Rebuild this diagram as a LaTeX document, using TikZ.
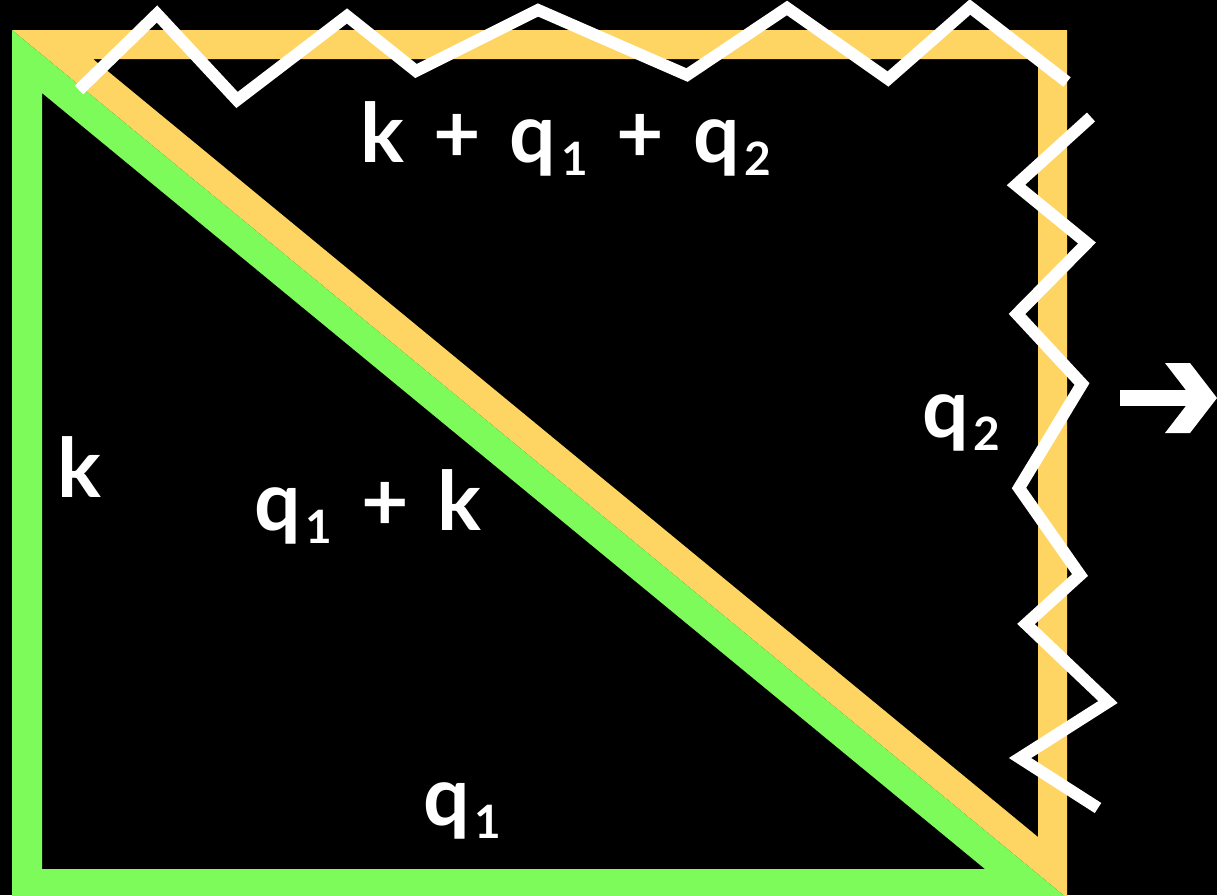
\documentclass[tikz,border=0pt]{standalone}
\usepackage{fontspec}
\setmainfont{Lato}
\definecolor{greenc}{HTML}{7CFB5A}
\definecolor{yellowc}{HTML}{FED462}
\newcommand{\qsub}[1]{\hspace{5pt}\raisebox{-0.17em}{\fontsize{46}{46}\selectfont #1}}
\newcommand{\lblfont}{\fontsize{82}{92}\selectfont\bfseries\spaceskip=29pt plus 0pt minus 0pt\relax}
\tikzset{
  lbl/.style={text=white, inner sep=0pt, anchor=base west, font=\lblfont},
  zig/.style={draw=white, line width=12pt, line join=miter, miter limit=10}
}
\begin{document}
\begin{tikzpicture}[x=1pt,y=-1pt]
\useasboundingbox (0,0) rectangle (1217,895);
\fill[black] (0,0) rectangle (1217,895);
% yellow triangle band
\fill[yellowc, even odd rule] (12,30) -- (1067,30) -- (1067,898) -- cycle
  (93,59) -- (1038,59) -- (1038,837) -- cycle;
% green triangle band
\fill[greenc, even odd rule] (12,30) -- (12,898) -- (1067,898) -- cycle
  (42,93) -- (42,869) -- (985,869) -- cycle;
% zigzag top
\draw[zig] (79,90) -- (157,14) -- (237,100) -- (347,16) -- (416,71) -- (538,10)
  -- (687,75) -- (787,8) -- (888,79) -- (970,7) -- (1067,82);
% zigzag right
\draw[zig] (1091,117) -- (1016,185) -- (1087,243) -- (1017,314) -- (1082,384)
  -- (1019,488) -- (1080,575) -- (1026,624) -- (1108,702) -- (1020,758) -- (1098,808);
% labels
\node[lbl] (ltop) at (360,162) {k + q\qsub{1} + q\qsub{2}};
\node[lbl] (lk) at (57,497) {k};
\node[lbl] (ldiag) at (254,530) {q\qsub{1} + k};
\node[lbl] (lq2) at (922,437) {q\qsub{2}};
\node[lbl] (lq1) at (423,825) {q\qsub{1}};
% arrow
\coordinate (as) at (1120,390);
\coordinate (ae) at (1196,406);
\fill[white] (as) rectangle (ae);
\fill[white] (1165,363) -- (1190,363) -- (1217,398) -- (1190,433) -- (1165,433)
  -- (1192,398) -- cycle;
\end{tikzpicture}
\end{document}
